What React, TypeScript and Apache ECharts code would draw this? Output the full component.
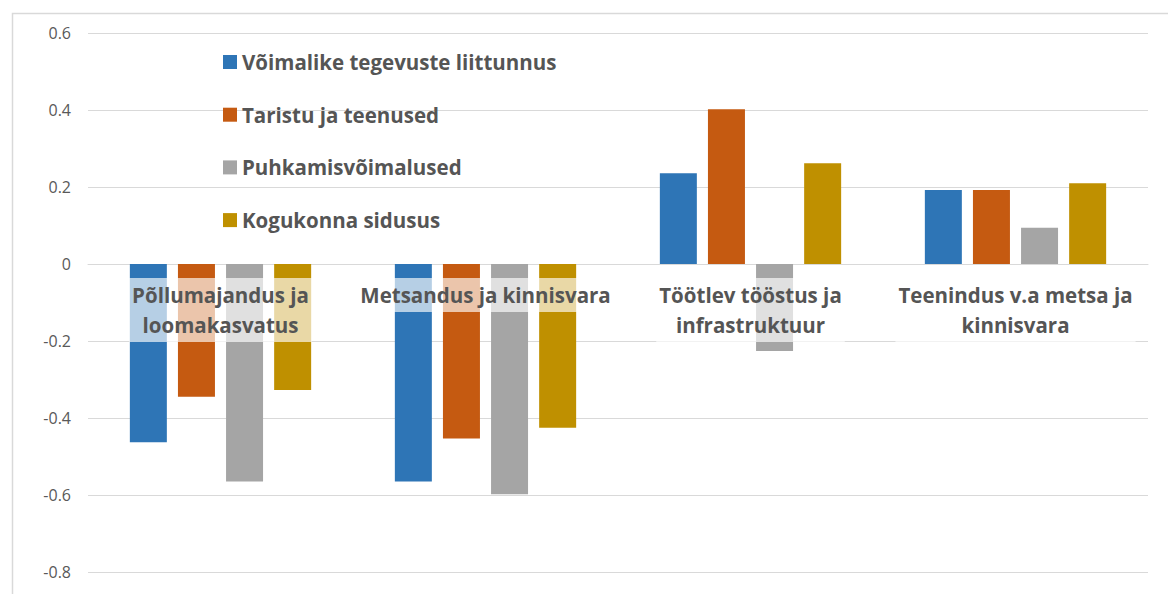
import React, { useEffect, useRef } from "react";
import * as echarts from "echarts";

const categories = [
  "Põllumajandus ja\nloomakasvatus",
  "Metsandus ja kinnisvara",
  "Töötlev tööstus ja\ninfrastruktuur",
  "Teenindus v.a metsa ja\nkinnisvara",
];
const seriesNames = [
  "Võimalike tegevuste liittunnus",
  "Taristu ja teenused",
  "Puhkamisvõimalused",
  "Kogukonna sidusus",
];
const liittunnus = [-0.463, -0.565, 0.236, 0.192];
const taristu = [-0.345, -0.453, 0.402, 0.192];
const puhkamis = [-0.565, -0.598, -0.226, 0.094];
const sidusus = [-0.327, -0.425, 0.262, 0.21];
const labelAnchor = [0, 0, 0, 0];
const colors = ["#2E75B6", "#C55A11", "#A5A5A5", "#BF9000"];
const yTicks = { min: -0.8, max: 0.6, interval: 0.2 };

const FONT = "'Open Sans', 'Noto Sans', sans-serif";

export default function App() {
  const ref = useRef<HTMLDivElement>(null);
  useEffect(() => {
    if (!ref.current) return;
    const chart = echarts.init(ref.current, undefined, { renderer: "svg" });
    const values = [liittunnus, taristu, puhkamis, sidusus];
    chart.setOption({
      animation: false,
      backgroundColor: "#ffffff",
      graphic: [
        {
          type: "rect",
          left: 10,
          top: 11,
          shape: { width: 1300, height: 700 },
          style: { fill: "none", stroke: "#d9d9d9", lineWidth: 1.5 },
          silent: true,
        },
      ],
      legend: {
        orient: "vertical",
        left: 218,
        top: 45,
        itemWidth: 14,
        itemHeight: 14,
        itemGap: 28.7,
        icon: "rect",
        data: seriesNames,
        textStyle: {
          fontFamily: FONT,
          fontWeight: "bold",
          fontSize: 20.5,
          lineHeight: 24,
          color: "#555555",
        },
      },
      grid: {
        left: 88,
        right: 20,
        top: 33,
        bottom: 22,
        containLabel: false,
        outerBoundsMode: "none",
      },
      xAxis: {
        type: "category",
        data: categories,
        axisLine: { show: true, onZero: true, lineStyle: { color: "#d9d9d9" } },
        axisTick: { show: false },
        axisLabel: { show: false },
      },
      yAxis: {
        type: "value",
        min: yTicks.min,
        max: yTicks.max,
        interval: yTicks.interval,
        axisLine: { show: false },
        axisTick: { show: false },
        splitLine: { lineStyle: { color: "#d9d9d9", width: 1 } },
        axisLabel: {
          margin: 17,
          fontFamily: FONT,
          fontSize: 16,
          color: "#595959",
          formatter: (v: number) => {
            const r = Math.round(v * 10) / 10;
            return r === 0 ? "0" : String(r);
          },
        },
      },
      series: [
        ...seriesNames.map((name, i) => ({
          name,
          type: "bar",
          data: values[i],
          barWidth: 37,
          barGap: "30%",
          itemStyle: { color: colors[i] },
        })),
        {
          name: "labels",
          type: "scatter",
          data: labelAnchor,
          symbolSize: 2,
          itemStyle: { color: "rgba(255,255,255,0)", opacity: 1 },
          silent: true,
          z: 10,
          label: {
            show: true,
            position: "bottom",
            distance: 13,
            opacity: 1,
            formatter: (p: any) => categories[p.dataIndex],
            fontFamily: FONT,
            fontWeight: "bold",
            fontSize: 20.5,
            lineHeight: 30,
            color: "#555555",
            textBorderWidth: 0,
            align: "center",
            backgroundColor: "rgba(255,255,255,0.65)",
            padding: [2, 3, 2, 3],
          },
        },
      ],
    });
    return () => chart.dispose();
  }, []);
  return (
    <div
      ref={ref}
      style={{ position: "fixed", left: 0, top: 0, width: 1168, height: 594 }}
    />
  );
}
